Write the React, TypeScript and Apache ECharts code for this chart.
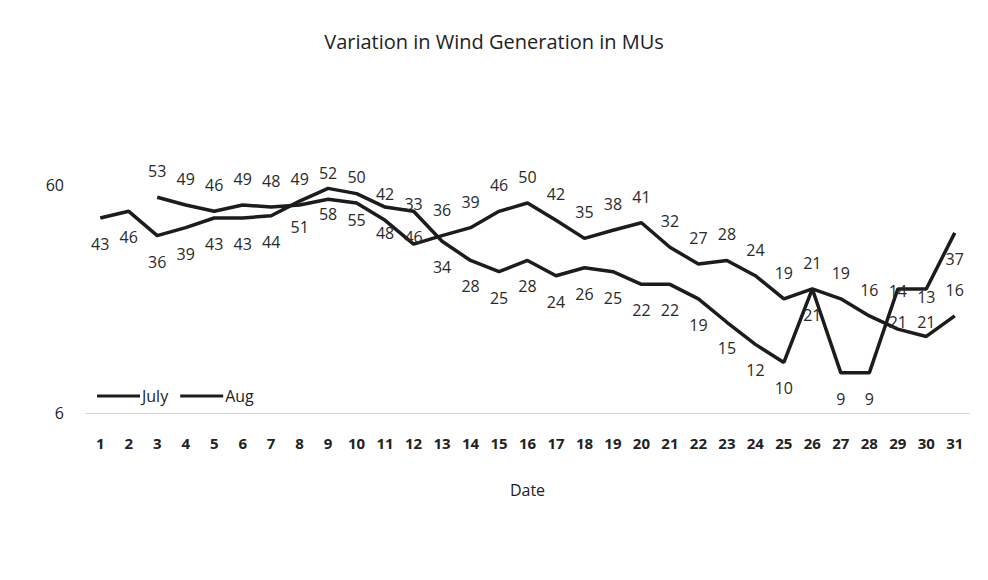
import React, { useEffect, useRef } from "react";
import * as echarts from "echarts";

const days = ["1","2","3","4","5","6","7","8","9","10","11","12","13","14","15","16","17","18","19","20","21","22","23","24","25","26","27","28","29","30","31"];
const july = [43,46,36,39,43,43,44,51,58,55,48,46,34,28,25,28,24,26,25,22,22,19,15,12,10,21,9,9,21,21,37];
const aug = [null,null,53,49,46,49,48,49,52,50,42,33,36,39,46,50,42,35,38,41,32,27,28,24,19,21,19,16,14,13,16];
const yTickLabels = [6, 60];

const FONT = "'Open Sans', Lato, sans-serif";

// label nudges (pixel offsets) for crowded points, keyed by day index
const julyLabelNudge: Record<number, [number, number]> = { 28: [0, 7], 29: [0, 7] };
const augLabelNudge: Record<number, [number, number]> = { 11: [0, -14], 28: [0, -12], 29: [0, -13] };

function withNudges(values: (number | null)[], nudges: Record<number, [number, number]>) {
  return values.map((v, i) =>
    nudges[i] && v != null ? { value: v, label: { offset: nudges[i] } } : v
  );
}

export default function App() {
  const ref = useRef<HTMLDivElement>(null);
  useEffect(() => {
    if (!ref.current) return;
    const chart = echarts.init(ref.current, null, { renderer: "svg" });
    const lineColor = "#1c1c1c";
    const labelStyle = { show: true, distance: 18, fontFamily: FONT, fontSize: 16, color: "#2a2a2a" };
    chart.setOption({
      animation: false,
      backgroundColor: "#ffffff",
      textStyle: { fontFamily: FONT },
      title: {
        text: "Variation in Wind Generation in MUs",
        left: "center",
        top: 31,
        padding: 0,
        textStyle: { fontFamily: FONT, fontSize: 20, fontWeight: "normal", color: "#222" },
      },
      legend: {
        left: 97,
        top: 388,
        padding: 0,
        itemWidth: 43,
        itemHeight: 16,
        itemGap: 12,
        icon: "path://M0,6.5 L43,6.5 L43,9.5 L0,9.5 Z",
        textStyle: { fontFamily: FONT, fontSize: 16, color: "#222", padding: [0, 0, 0, -3] },
        data: ["July", "Aug"],
      },
      grid: { left: 86, right: 19, top: 185, bottom: 167, containLabel: false },
      xAxis: {
        type: "category",
        data: days,
        boundaryGap: true,
        name: "Date",
        nameLocation: "middle",
        nameGap: 69,
        nameTextStyle: { fontFamily: FONT, fontSize: 16, color: "#222" },
        axisTick: { show: false },
        axisLine: { show: true, lineStyle: { color: "#c8c8c8", width: 1, type: "dotted" } },
        axisLabel: { fontFamily: FONT, fontSize: 15, fontWeight: "bold", color: "#222", margin: 22, interval: 0 },
      },
      yAxis: {
        type: "log",
        logBase: 10,
        min: 6,
        max: 60,
        splitLine: { show: false },
        axisLine: { show: false },
        axisTick: { show: false },
        axisLabel: {
          fontFamily: FONT,
          fontSize: 16,
          color: "#222",
          margin: 22,
          formatter: (v: number) => {
            const hit = yTickLabels.find((t) => Math.abs(v - t) / t < 0.01);
            return hit !== undefined ? String(hit) : "";
          },
        },
      },
      series: [
        {
          name: "July",
          type: "line",
          data: withNudges(july, julyLabelNudge),
          symbol: "circle",
          symbolSize: 0,
          showSymbol: true,
          lineStyle: { color: lineColor, width: 3.5 },
          itemStyle: { color: lineColor },
          label: { ...labelStyle, position: "bottom" },
        },
        {
          name: "Aug",
          type: "line",
          data: withNudges(aug, augLabelNudge),
          symbol: "circle",
          symbolSize: 0,
          showSymbol: true,
          connectNulls: false,
          lineStyle: { color: lineColor, width: 3.5 },
          itemStyle: { color: lineColor },
          label: { ...labelStyle, position: "top" },
        },
      ],
    });
    return () => chart.dispose();
  }, []);
  return <div ref={ref} style={{ width: 988, height: 580, margin: -8 }} />;
}
